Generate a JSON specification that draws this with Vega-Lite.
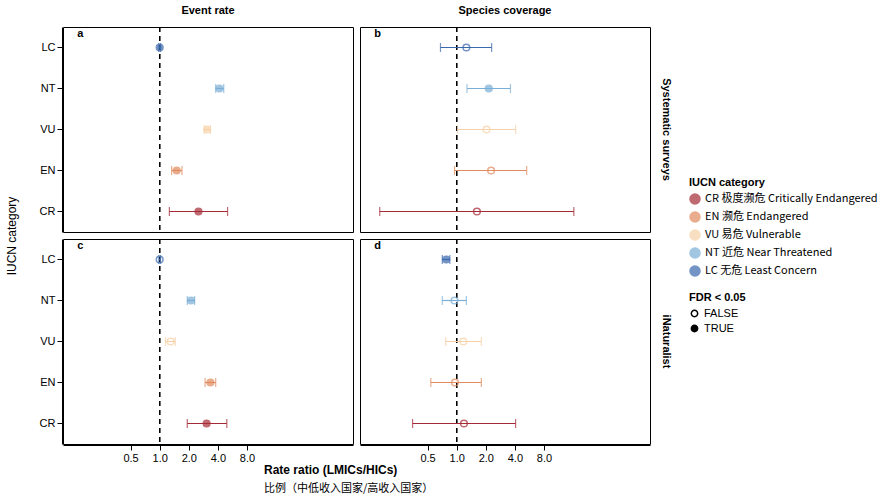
{
"$schema":"https://vega.github.io/schema/vega-lite/v6.json",
"config":{"font":"Liberation Sans","view":{"stroke":"black","strokeWidth":1},"axis":{"grid":false,"domainColor":"black","tickColor":"black","labelColor":"black","labelFontSize":11,"titleFontSize":12},"legend":{"labelFontSize":11,"titleFontSize":11,"labelLimit":300}},
"title":{"text":"Rate ratio (LMICs/HICs)","subtitle":"比例（中低收入国家/高收入国家）","orient":"bottom","fontSize":12,"anchor":"start","offset":2,"dx":258,"fontWeight":"bold","subtitleFont":"Noto Sans CJK SC","subtitleFontSize":11,"subtitleColor":"black","subtitlePadding":6},
"data":{"values":[
{"row":"Systematic surveys","col":"Event rate","cat":"LC","est":1.0,"lo":0.98,"hi":1.02,"sig":"TRUE","panel":"a"},
{"row":"Systematic surveys","col":"Event rate","cat":"NT","est":4.15,"lo":3.8,"hi":4.6,"sig":"TRUE","panel":"a"},
{"row":"Systematic surveys","col":"Event rate","cat":"VU","est":3.1,"lo":2.9,"hi":3.35,"sig":"TRUE","panel":"a"},
{"row":"Systematic surveys","col":"Event rate","cat":"EN","est":1.5,"lo":1.33,"hi":1.7,"sig":"TRUE","panel":"a"},
{"row":"Systematic surveys","col":"Event rate","cat":"CR","est":2.52,"lo":1.26,"hi":5.04,"sig":"TRUE","panel":"a"},
{"row":"Systematic surveys","col":"Species coverage","cat":"LC","est":1.26,"lo":0.68,"hi":2.3,"sig":"FALSE","panel":"b"},
{"row":"Systematic surveys","col":"Species coverage","cat":"NT","est":2.15,"lo":1.28,"hi":3.6,"sig":"TRUE","panel":"b"},
{"row":"Systematic surveys","col":"Species coverage","cat":"VU","est":2.04,"lo":1.02,"hi":4.07,"sig":"FALSE","panel":"b"},
{"row":"Systematic surveys","col":"Species coverage","cat":"EN","est":2.27,"lo":0.95,"hi":5.3,"sig":"FALSE","panel":"b"},
{"row":"Systematic surveys","col":"Species coverage","cat":"CR","est":1.62,"lo":0.16,"hi":16.3,"sig":"FALSE","panel":"b"},
{"row":"iNaturalist","col":"Event rate","cat":"LC","est":1.0,"lo":0.98,"hi":1.02,"sig":"FALSE","panel":"c"},
{"row":"iNaturalist","col":"Event rate","cat":"NT","est":2.11,"lo":1.93,"hi":2.3,"sig":"TRUE","panel":"c"},
{"row":"iNaturalist","col":"Event rate","cat":"VU","est":1.3,"lo":1.15,"hi":1.45,"sig":"FALSE","panel":"c"},
{"row":"iNaturalist","col":"Event rate","cat":"EN","est":3.35,"lo":2.95,"hi":3.8,"sig":"TRUE","panel":"c"},
{"row":"iNaturalist","col":"Event rate","cat":"CR","est":3.06,"lo":1.93,"hi":4.95,"sig":"TRUE","panel":"c"},
{"row":"iNaturalist","col":"Species coverage","cat":"LC","est":0.78,"lo":0.71,"hi":0.85,"sig":"TRUE","panel":"d"},
{"row":"iNaturalist","col":"Species coverage","cat":"NT","est":0.95,"lo":0.71,"hi":1.26,"sig":"FALSE","panel":"d"},
{"row":"iNaturalist","col":"Species coverage","cat":"VU","est":1.17,"lo":0.77,"hi":1.8,"sig":"FALSE","panel":"d"},
{"row":"iNaturalist","col":"Species coverage","cat":"EN","est":0.96,"lo":0.54,"hi":1.8,"sig":"FALSE","panel":"d"},
{"row":"iNaturalist","col":"Species coverage","cat":"CR","est":1.19,"lo":0.35,"hi":4.07,"sig":"FALSE","panel":"d"}
]},
"facet":{
"row":{"field":"row","type":"nominal","sort":["Systematic surveys","iNaturalist"],"title":"IUCN category","header":{"titleOrient":"left","titleFontWeight":"normal","titleFontSize":12,"labelOrient":"right","labelAngle":90,"labelFontWeight":"bold","labelFontSize":11}},
"column":{"field":"col","type":"nominal","title":null,"header":{"labelFontWeight":"bold","labelFontSize":11}}
},
"spacing":{"row":5,"column":5},
"resolve":{"scale":{"x":"shared","y":"shared"}},
"spec":{
"width":290,"height":205,
"encoding":{
"y":{"field":"cat","type":"nominal","title":null,"scale":{"domain":["LC","NT","VU","EN","CR"]}}
},
"layer":[
{"mark":{"type":"rule","strokeDash":[5,4],"color":"black"},"encoding":{"x":{"datum":1.0},"y":null}},
{"mark":{"type":"rule","strokeWidth":1.2},"encoding":{
"x":{"field":"lo","type":"quantitative","scale":{"type":"log","domain":[0.11,23]},"title":null,"axis":{"values":[0.5,1,2,4,8],"format":".1f"}},
"x2":{"field":"hi"},
"color":{"field":"cat","type":"nominal"}}},
{"mark":{"type":"tick","size":9,"thickness":1.2,"orient":"vertical"},"encoding":{"x":{"field":"lo","type":"quantitative"},"color":{"field":"cat","type":"nominal"}}},
{"mark":{"type":"tick","size":9,"thickness":1.2,"orient":"vertical"},"encoding":{"x":{"field":"hi","type":"quantitative"},"color":{"field":"cat","type":"nominal"}}},
{"mark":{"type":"point","filled":true,"size":45,"strokeWidth":1.5},"encoding":{
"x":{"field":"est","type":"quantitative"},
"color":{"field":"cat","type":"nominal","title":"IUCN category","scale":{"domain":["CR","EN","VU","NT","LC"],"range":["#a52a35","#e08a5e","#f7d2a8","#7aaed6","#3a68ad"]},"legend":{"orient":"none","legendX":626,"legendY":150,"symbolType":"circle","symbolOpacity":1,"labelExpr":"datum.value=='CR'?'CR  极度濒危 Critically Endangered':datum.value=='EN'?'EN  濒危 Endangered':datum.value=='VU'?'VU  易危 Vulnerable':datum.value=='NT'?'NT  近危 Near Threatened':'LC  无危 Least Concern'","labelFont":"Noto Sans CJK SC"}},
"stroke":{"field":"cat","type":"nominal","legend":null,"scale":{"domain":["CR","EN","VU","NT","LC"],"range":["#a52a35","#e08a5e","#f7d2a8","#7aaed6","#3a68ad"]}},
"fillOpacity":{"field":"sig","type":"nominal","legend":null,"scale":{"domain":["FALSE","TRUE"],"range":[0,1]}},
"shape":{"field":"sig","type":"nominal","title":"FDR < 0.05","scale":{"domain":["FALSE","TRUE"],"range":["circle","circle"]},"legend":{"orient":"none","legendX":626,"legendY":265,"symbolSize":40,"symbolStrokeWidth":1.5,"symbolOpacity":1,"symbolStrokeColor":"black","symbolFillColor":"black","encode":{"symbols":{"update":{"fillOpacity":{"signal":"(datum.value=='TRUE'||datum.label=='TRUE')?1:0"},"stroke":{"value":"black"}}}}}}}},
{"transform":[{"filter":"datum.cat=='LC'"}],"mark":{"type":"text","fontWeight":"bold","fontSize":11,"dy":-14,"align":"left"},"encoding":{"x":{"datum":0.14},"text":{"field":"panel"}}}
]}
}
